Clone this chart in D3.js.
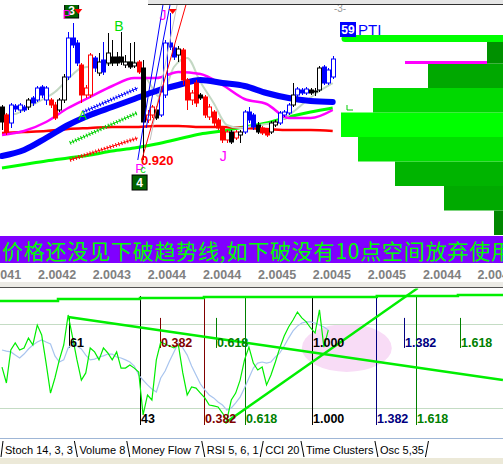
<!DOCTYPE html>
<html><head><meta charset="utf-8">
<script src="https://cdn.jsdelivr.net/npm/d3@7"></script>
<style>body{margin:0;background:#fff;overflow:hidden}svg{display:block}</style>
</head><body><svg id="c" width="503" height="464"></svg>
<script>
// ---------------- DATA ----------------
const candleOpen  = [128,120,112,129,125,128,128,137,135,148,135,135,130,125,135,158,197,192,170,140,140,177,162,175,172,178,178,178,170,173,169,173,167,115,120,125,120,140,192,187,180,185,155,135,152,140,138,118,123,115,107,95,103,97,100,103,123,120,110,107,105,103,110,112,120,122,130,140,145,142,145,144,145,168,152,158];
const candleClose = [113,103,130,126,130,125,135,132,147,140,147,130,117,135,158,197,190,172,140,147,180,167,173,163,182,172,172,173,173,168,172,163,113,120,128,117,143,192,188,178,186,155,135,142,132,137,120,128,112,107,95,103,93,103,103,123,115,108,103,102,100,112,113,122,123,130,140,146,142,146,142,143,167,152,165,176];
const candleHigh  = [130,122,132,131,132,130,137,139,149,150,149,137,133,137,161,203,212,195,172,150,182,179,182,193,202,195,183,203,180,192,193,175,175,125,130,129,145,195,222,190,189,187,157,145,155,142,140,131,125,117,109,105,105,105,105,125,128,122,113,109,107,114,115,124,125,132,152,148,147,148,147,147,169,170,167,179];
const candleLow   = [105,100,107,123,122,123,125,129,133,137,130,127,115,123,132,155,187,169,132,137,137,163,159,160,169,169,169,170,167,166,167,161,75,112,117,115,118,137,185,175,173,150,125,130,128,135,117,115,109,105,92,92,91,95,92,101,112,105,101,100,98,101,108,110,118,120,128,138,140,140,140,139,143,150,150,156];
const candleColor = "krbbbbkbbbbrrkkbbbrrrbkbkkkkkkkrkrrkbbbbkrrrrkrrrrrrkrkbbbkrrkkbbbkbbbkkkbbb".split("");

const maIdx     = [0,5,10,15,20,25,30,35,40,45,50,55,60,65,70,75];
const maBlue    = [79,85,97,110,120,128,136,144,150,155,152,149,142,137,134,133];
const maMagenta = [100,104,113,127,138,149,157,157,163,161,150,136,131,117,117,125];
const maRed     = [102,103,104,106,107,108,108,109,109,108,108,107,106,105,105,104];
const maGreen   = [67,70.5,74,77,80,84,87,91,96,101,104,108,112,118,123,127];
const grayIdx   = [0,3,6,9,12,15,18,21,24,27,30,33,36,39,42,45,48,51,54,57,60,63,66,69,72,75];
const maGray    = [120,121,128,135,143,156,167,169,171,173,173,155,137,168,177,153,132,110,107,109,111,114,123,134,144,152];

const chanStart = [[18.4,123],[15.4,92],[15.4,75]];
const chanEnd   = [[30.8,147],[30.6,122],[30.8,97]];
const chanColor = ["#0000ff","#00d000","#ff0000"];

const fanStart = [[30.8,75],[32.7,107],[33.6,95],[31.7,75]];
const fanEnd   = [[36.5,230],[38.1,230],[39.7,230],[41.7,230]];
const fanColor = ["#0000ff","#0000ff","#c0c0c0","#ff0000"];

const profileBase  = [0,24.5,49,73.5,98,122.5,147,171.5];
const profileVol   = [9,59,108,145,162,130,75,16];
const profileColor = ["#008800","#00aa00","#00b400","#00e000","#00ff00","#00d800","#00a800","#009000"];

const timeLabels = ["2.0041","2.0042","2.0043","2.0044","2.0044","2.0045","2.0045","2.0045","2.0044","2.0044"];
const timeBars   = [0,12.5,24.9,37.4,49.9,62.4,74.8,87.3,99.8,112.2];

const rsiGreen = [49.5,41.9,57.6,61.0,57.6,58.6,63.3,60.0,69.5,64.8,51.4,37.1,44.3,52.9,60.0,74.3,63.8,52.9,43.3,46.7,58.6,56.7,52.9,58.6,56.2,52.9,56.7,49.0,49.0,50.5,49.0,47.1,26.7,36.2,33.8,52.9,61.4,60.5,59.5,58.6,60.0,46.7,36.2,40.0,39.5,37.1,34.8,31.4,31.0,30.5,27.6,24.3,33.8,37.1,43.3,52.9,59.0,51.4,48.1,49.5,41.0,45.7,51.9,58.6,64.3,68.6,71.9,75.7,72.9,71.0,68.1,65.7,76.7,59.0,67.1];
const rsiBlue  = [57.6,57.1,56.7,55.2,53.8,55.7,58.1,60.0,61.4,62.4,61.4,60.5,54.8,51.9,52.9,58.6,60.5,59.5,58.1,55.2,52.9,53.3,54.3,54.8,55.7,55.7,54.3,53.8,52.9,51.9,50.0,45.7,43.3,41.0,39.0,37.6,44.3,47.6,52.4,56.7,61.0,58.6,55.2,50.0,45.7,41.4,38.6,36.2,34.8,32.9,31.4,29.0,30.0,32.4,35.2,39.5,44.3,49.0,51.4,51.9,51.4,51.9,54.3,56.2,59.5,63.3,66.7,69.0,70.5,71.0,71.0,70.5,69.5,68.6,67.1];

const topTrend  = [[-0.5,81.0],[12.7,81.0],[12.7,81.9],[31.3,81.9],[31.3,82.4],[45.8,82.4],[45.8,82.9],[85,82.9],[85,83.3],[103.4,83.3],[103.4,83.8],[114,83.8]];
const downTrend = [[15.0,73.3],[113.6,43.3]];
const upTrend   = [[50.6,22.9],[94.3,87.1]];

const fibFullBars   = [31.3,45.8,55.1,70.3,84.8,93.9];
const fibFullLabels = ["43","0.382","0.618","1.000","1.382","1.618"];
const fibShortBars  = [15.2,35.8,48.5,70.3,91.2,103.9];
const fibShortLabels= ["61","0.382","0.618","1.000","1.382","1.618"];
const fibColor      = ["#000000","#800000","#008000","#000000","#000080","#008000"];

const bannerText = "价格还没见下破趋势线,如下破没有10点空间放弃使用";
const tabNames = ["Stoch 14, 3, 3","Volume 8","Money Flow 7","RSI 5, 6, 1","CCI 20","Time Clusters","Osc 5,35"];
const activeTab = 3;

// ---------------- SCALES ----------------
const W = 503, H = 464;
const xB = d3.scaleLinear().domain([0,75]).range([2,332.7]);
const yP = d3.scaleLinear().domain([0,230]).range([235,5]);
const yR = d3.scaleLinear().domain([0,100]).range([471,261]);
const xV = d3.scaleLinear().domain([0,100]).range([503,403]);
const colorMap = {k:"#000000", r:"#ff0000", b:"#0000ff"};
const FONT = "'Liberation Sans', Arial, sans-serif";

const svg = d3.select("#c");
const defs = svg.append("defs");
defs.append("clipPath").attr("id","mainClip").append("rect").attr("x",0).attr("y",5).attr("width",W).attr("height",231);
defs.append("clipPath").attr("id","rsiClip").append("rect").attr("x",0).attr("y",288.5).attr("width",W).attr("height",149);

svg.append("rect").attr("width",W).attr("height",H).attr("fill","#ffffff");

// top frame
svg.append("rect").attr("x",148).attr("y",0).attr("width",W-148).attr("height",4).attr("fill","#e6e6e6");
svg.append("line").attr("x1",148).attr("x2",W).attr("y1",4.5).attr("y2",4.5).attr("stroke","#303030").attr("stroke-width",1);

// ---------------- MAIN CHART ----------------
const main = svg.append("g").attr("clip-path","url(#mainClip)");

// volume profile
main.selectAll("rect.prof").data(profileVol).join("rect").attr("class","prof")
  .attr("x",d=>xV(d)).attr("width",d=>W-xV(d))
  .attr("y",(d,i)=>yP(profileBase[i]+24.5)).attr("height",(d,i)=>yP(profileBase[i])-yP(profileBase[i]+24.5))
  .attr("fill",(d,i)=>profileColor[i]);
main.append("line").attr("x1",xV(161)+3).attr("x2",W+5).attr("y1",yP(196.5)).attr("y2",yP(196.5))
  .attr("stroke","#00ff00").attr("stroke-width",7).attr("stroke-linecap","round");
main.append("line").attr("x1",xV(98)).attr("x2",xV(16)).attr("y1",yP(172.5)).attr("y2",yP(172.5))
  .attr("stroke","#ff00ff").attr("stroke-width",3);
main.append("path").attr("d",`M${xV(159)+3},${yP(130)}V${yP(125)}H${xV(159)+9}`).attr("fill","none").attr("stroke","#00cc00").attr("stroke-width",1);

// moving averages
const lineMA = (idx)=> d3.line().x((d,i)=>xB(idx[i])).y(d=>yP(d)).curve(d3.curveMonotoneX);
main.append("path").attr("d",lineMA(maIdx)(maGreen)).attr("fill","none").attr("stroke","#00ff00").attr("stroke-width",3);
main.append("path").attr("d",lineMA(maIdx)(maRed)).attr("fill","none").attr("stroke","#ff0000").attr("stroke-width",2.5);
main.append("path").attr("d",lineMA(grayIdx)(maGray)).attr("fill","none").attr("stroke","#c4d8c4").attr("stroke-width",2);
main.append("path").attr("d",lineMA(maIdx)(maMagenta)).attr("fill","none").attr("stroke","#ff00ff").attr("stroke-width",2.5);
main.append("path").attr("d",lineMA(maIdx)(maBlue)).attr("fill","none").attr("stroke","#0000ff").attr("stroke-width",6).attr("stroke-linecap","round");

// hatched channel lines
chanStart.forEach((s,i)=>{
  const e = chanEnd[i];
  main.append("line").attr("x1",xB(s[0])).attr("y1",yP(s[1])).attr("x2",xB(e[0])).attr("y2",yP(e[1]))
    .attr("stroke",chanColor[i]).attr("stroke-width",1);
  main.append("line").attr("x1",xB(s[0])).attr("y1",yP(s[1])).attr("x2",xB(e[0])).attr("y2",yP(e[1]))
    .attr("stroke",chanColor[i]).attr("stroke-width",4).attr("stroke-dasharray","1,2");
});

// candles
const bw = 4;
const cg = main.append("g");
candleOpen.forEach((o,i)=>{
  const c = candleClose[i], col = colorMap[candleColor[i]], x = Math.round(xB(i))+0.5;
  cg.append("line").attr("x1",x).attr("x2",x).attr("y1",yP(candleHigh[i])).attr("y2",yP(candleLow[i])).attr("stroke",col).attr("stroke-width",1);
  const top = yP(Math.max(o,c)), bot = yP(Math.min(o,c));
  const filled = c < o;
  cg.append("rect").attr("x",x-bw/2).attr("y",top).attr("width",bw).attr("height",Math.max(1,bot-top))
    .attr("fill",filled?col:"#ffffff").attr("stroke",col).attr("stroke-width",1);
});

// fan lines
fanStart.forEach((s,i)=>{
  const e = fanEnd[i];
  main.append("line").attr("x1",xB(s[0])).attr("y1",yP(s[1])).attr("x2",xB(e[0])).attr("y2",yP(e[1]))
    .attr("stroke",fanColor[i]).attr("stroke-width",1);
});

// annotations
const txt = (g,x,y,s,col,size,weight,anchor)=>g.append("text").attr("x",x).attr("y",y).text(s)
  .attr("fill",col).attr("font-family",FONT).attr("font-size",size).attr("font-weight",weight||"normal").attr("text-anchor",anchor||"start");
main.append("rect").attr("x",xB(14.2)).attr("y",3).attr("width",14).attr("height",15).attr("fill","#006400").attr("stroke","#000").attr("stroke-width",1);
txt(main,xB(14.2)+7,15,"3","#ffffff",12,"bold","middle");
txt(main,xB(14.7),19,"P","#ff00ff",13,"normal","middle");
main.append("path").attr("d",`M${xB(17.3)-4},9L${xB(17.3)+4},9L${xB(17.3)},14Z`).attr("fill","#ff0000");
txt(main,xB(26.5),31,"B","#00e000",14,"normal","middle");
txt(main,xB(18.3),120,"A","#00e000",13,"normal","middle");
txt(main,xB(36.5),20,"J","#ff00ff",14,"normal","middle");
main.append("path").attr("d",`M${xB(38.7)-4},9L${xB(38.7)+4},9L${xB(38.7)},14Z`).attr("fill","#ff0000");
txt(main,xB(31.5),yP(70),"0.920","#ff0000",13,"bold");
txt(main,xB(31.2),173,"P","#ff00ff",13,"normal","middle");
txt(main,xB(32.0),173,"c","#00dd00",11,"normal","middle");
main.append("rect").attr("x",xB(29.5)).attr("y",175).attr("width",15).attr("height",15).attr("fill","#006400").attr("stroke","#000").attr("stroke-width",1);
txt(main,xB(29.5)+7.5,187,"4","#ffffff",12,"bold","middle");
txt(main,xB(50.2),161,"J","#ff00ff",14,"normal","middle");
txt(main,340,12,"-3-","#999999",10,"normal","middle");
main.append("rect").attr("x",340).attr("y",22).attr("width",16).attr("height",15).attr("fill","#0000ff");
txt(main,348,34,"59","#ffffff",12,"bold","middle");
txt(main,358,35,"PTI","#0000ff",15,"normal");

// ---------------- BANNER ----------------
svg.append("rect").attr("x",0).attr("y",236).attr("width",W).attr("height",27).attr("fill","#8000ff");
svg.append("text").attr("x",2).attr("y",259).text(bannerText).attr("fill","#00ff00")
  .attr("font-family","'Noto Sans CJK SC', sans-serif").attr("font-size",21)
  .attr("textLength",510).attr("lengthAdjust","spacing");

// time labels
svg.selectAll("text.tl").data(timeLabels).join("text").attr("class","tl")
  .attr("x",(d,i)=>xB(timeBars[i])).attr("y",279).text(d=>d).attr("text-anchor","middle")
  .attr("fill","#808080").attr("font-family",FONT).attr("font-size",12.5).attr("font-weight","bold");

svg.append("rect").attr("x",0).attr("y",282).attr("width",W).attr("height",5).attr("fill","#ecebe6");
svg.append("line").attr("x1",0).attr("x2",W).attr("y1",287.5).attr("y2",287.5).attr("stroke","#505050");

// ---------------- RSI PANEL ----------------
const rsi = svg.append("g").attr("clip-path","url(#rsiClip)");
rsi.append("ellipse").attr("cx",xB(78.2)).attr("cy",yR(58.6)).attr("rx",xB(88.4)-xB(78.2)).attr("ry",yR(47.2)-yR(58.6)).attr("fill","#f8dcf6");
[70,30].forEach(v=>rsi.append("line").attr("x1",0).attr("x2",W).attr("y1",Math.round(yR(v))+0.5).attr("y2",Math.round(yR(v))+0.5).attr("stroke","#c4dcc4"));
fibFullBars.forEach((b,i)=>{
  const x = Math.round(xB(b))+0.5;
  rsi.append("line").attr("x1",x).attr("x2",x).attr("y1",yR(83.3)).attr("y2",yR(21.9)).attr("stroke",fibColor[i]).attr("stroke-width",1);
});
fibShortBars.forEach((b,i)=>{
  const x = Math.round(xB(b))+0.5;
  rsi.append("line").attr("x1",x).attr("x2",x).attr("y1",yR(72.9)).attr("y2",yR(58.6)).attr("stroke",fibColor[i]).attr("stroke-width",1);
});
const lineR = d3.line().x((d,i)=>xB(i)).y(d=>yR(d));
rsi.append("path").attr("d",lineR(rsiBlue)).attr("fill","none").attr("stroke","#a8c4ee").attr("stroke-width",1.2);
rsi.append("path").attr("d",lineR(rsiGreen)).attr("fill","none").attr("stroke","#00ee00").attr("stroke-width",1.2);
const lineT = d3.line().x(d=>xB(d[0])).y(d=>yR(d[1]));
[topTrend,downTrend,upTrend].forEach(t=>rsi.append("path").attr("d",lineT(t)).attr("fill","none").attr("stroke","#00ee00").attr("stroke-width",2.5));
fibShortBars.forEach((b,i)=>txt(rsi,Math.round(xB(b))+1,347,fibShortLabels[i],fibColor[i],12.5,"bold"));
fibFullBars.forEach((b,i)=>txt(rsi,Math.round(xB(b))+1,423,fibFullLabels[i],fibColor[i],12.5,"bold"));

// ---------------- TABS ----------------
svg.append("rect").attr("x",0).attr("y",438).attr("width",W).attr("height",26).attr("fill","#ffffff");
svg.append("rect").attr("x",0).attr("y",458).attr("width",W).attr("height",6).attr("fill","#ece9d8");
svg.append("line").attr("x1",0).attr("x2",W).attr("y1",438.5).attr("y2",438.5).attr("stroke","#9fb6d6");
svg.append("path").attr("d","M1,457L3,441").attr("stroke","#000").attr("fill","none");
let tx = 5;
tabNames.forEach((n,i)=>{
  const t = txt(svg,tx,454,n,"#000000",11,"normal");
  const w = t.node().getComputedTextLength();
  const sx = tx + w + 1.5;
  const slash = (i===activeTab || i===tabNames.length-1) ? `M${sx},457L${sx+3},441` : `M${sx},441L${sx+3},457`;
  svg.append("path").attr("d",slash).attr("stroke","#000").attr("fill","none");
  tx = sx + 5;
});
</script></body></html>
